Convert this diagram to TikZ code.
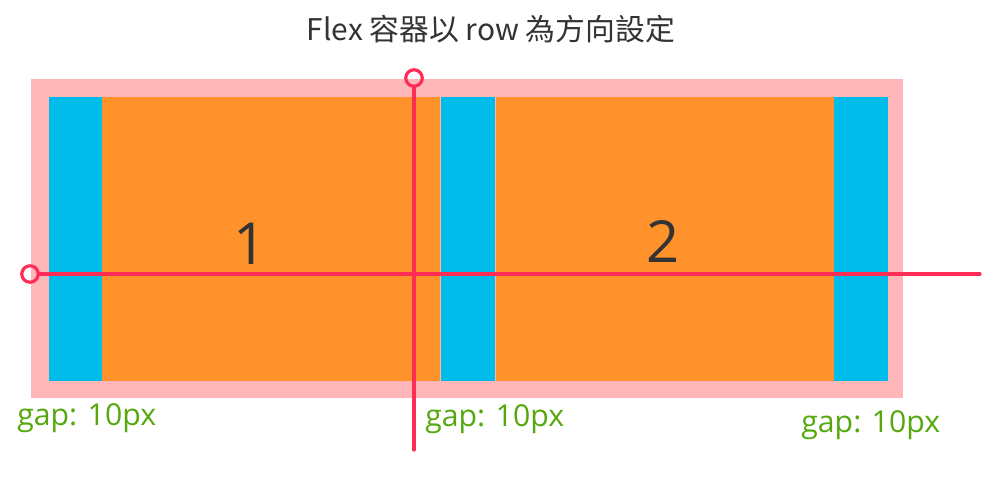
\documentclass[tikz,border=0pt]{standalone}
\usepackage{fontspec}
\setmainfont{Open Sans}
\newfontfamily\cjk{Noto Sans CJK TC}
\definecolor{boxpink}{HTML}{FFB6B9}
\definecolor{gapblue}{HTML}{00BCEB}
\definecolor{itemorange}{HTML}{FF922B}
\definecolor{axisred}{HTML}{FF2D55}
\definecolor{gapgreen}{HTML}{55A80E}
\definecolor{numgray}{HTML}{333333}

\begin{document}
\begin{tikzpicture}[
        x=0.02cm, y=-0.02cm,
        line cap=round,
        line join=round,
        axis/.style={draw=axisred, line width=1.8pt},
        dot/.style={circle, draw=axisred, line width=1.8pt, inner sep=0pt, minimum size=0.33cm},
        gaplabel/.style={text=gapgreen, anchor=base west, inner sep=0pt, font=\fontsize{17.2}{19}\selectfont},
        itemnum/.style={text=numgray, anchor=base, inner sep=0pt, font=\fontsize{33}{36}\selectfont}
    ]
        \useasboundingbox (0,0) rectangle (1000,478);

        \node[anchor=base, inner sep=0pt, text=numgray, font=\cjk\fontsize{17}{20}\selectfont]
            (title) at (491,40) {Flex 容器以 row 為方向設定};

        % container and items
        \fill[boxpink] (31,79) rectangle (903,398);
        \fill[gapblue] (49,97) rectangle (102,381);
        \fill[itemorange] (102,97) rectangle (440,381);
        \fill[gapblue] (441,97) rectangle (495,381);
        \fill[itemorange] (496,97) rectangle (834,381);
        \fill[gapblue] (834,97) rectangle (888,381);

        \node[itemnum] (one) at (250,264) {1};
        \node[itemnum] (two) at (663,262) {2};

        % main axis and cross axis
        \node[dot] (mainstart) at (30,274) {};
        \coordinate (mainend) at (980,274);
        \node[dot] (crossstart) at (414,78) {};
        \coordinate (crossend) at (414,450);

        \draw[axis] (mainstart.east) -- (mainend);
        \draw[axis] (crossstart.south) -- (crossend);

        \node[gaplabel] (gapa) at (17,425) {gap: 10px};
        \node[gaplabel] (gapb) at (425,426) {gap: 10px};
        \node[gaplabel] (gapc) at (801,432) {gap: 10px};
    \end{tikzpicture}
\end{document}
